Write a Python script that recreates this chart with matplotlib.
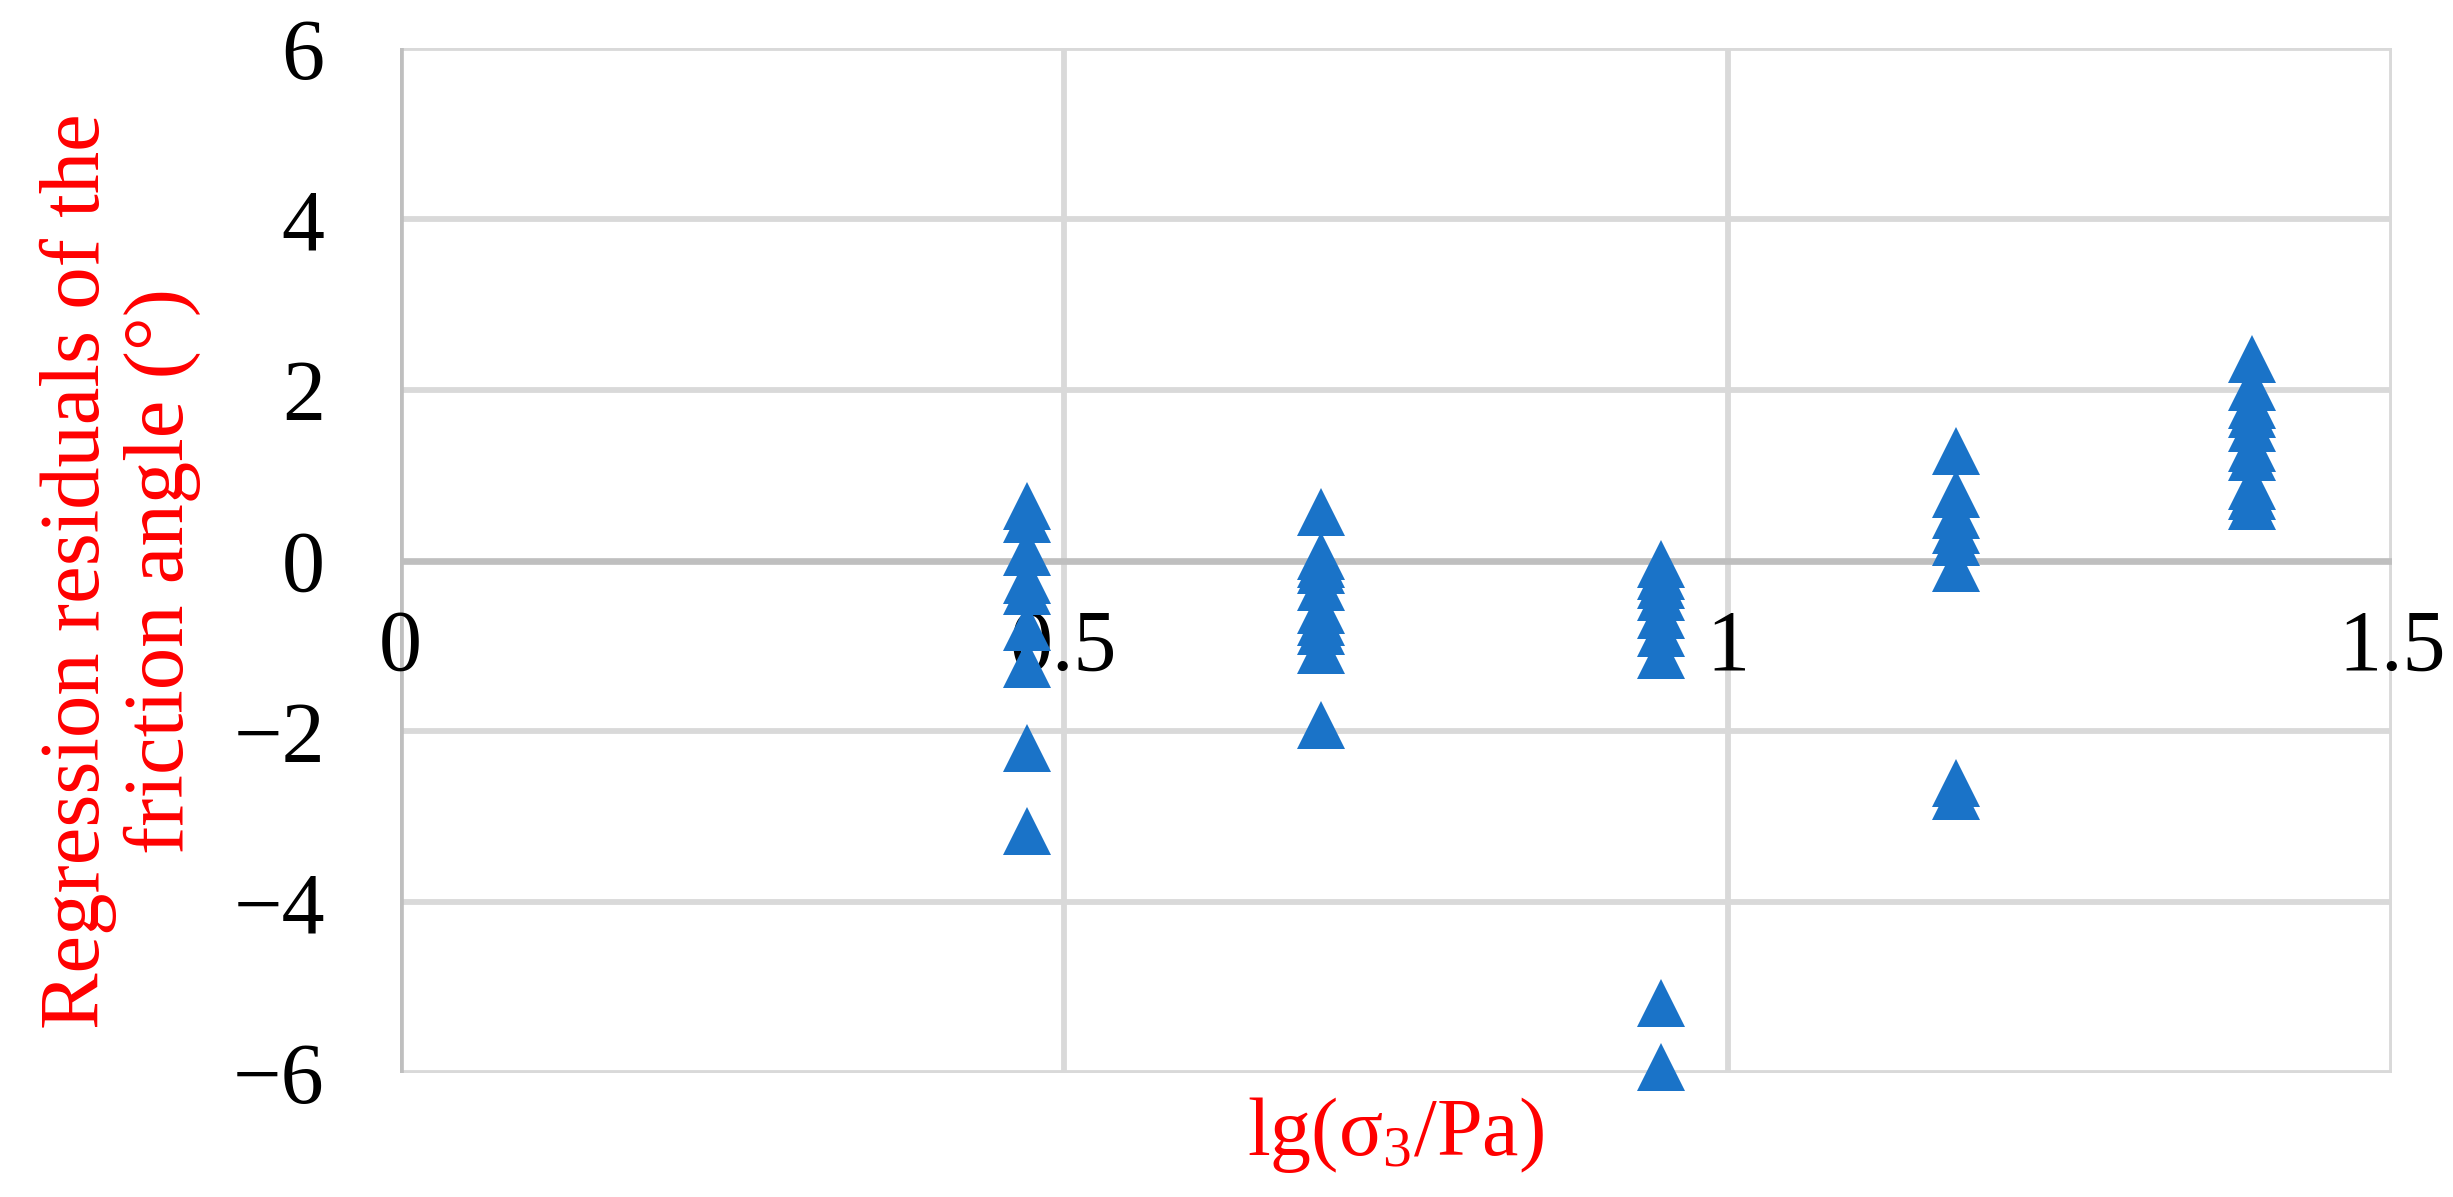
import numpy as np
import matplotlib
matplotlib.use("Agg")
import matplotlib.pyplot as plt

plt.rcParams['font.family'] = ['Liberation Serif', 'DejaVu Serif']
plt.rcParams['mathtext.fontset'] = 'custom'
plt.rcParams['mathtext.rm'] = 'Liberation Serif'
plt.rcParams['mathtext.it'] = 'Liberation Serif:italic'

# lg(sigma3/Pa) groups and residuals
x_groups = [0.472, 0.694, 0.950, 1.172, 1.395]
res_1 = [0.64, 0.49, 0.10, -0.23, -0.35, -0.78, -1.21, -2.19, -3.17]
res_2 = [0.57, 0.06, -0.04, -0.11, -0.31, -0.58, -0.72, -0.82, -1.05, -1.93]
res_3 = [-0.04, -0.18, -0.29, -0.43, -0.64, -0.85, -1.10, -5.18, -5.93]
res_4 = [1.29, 0.78, 0.53, 0.36, 0.22, -0.08, -2.60, -2.76]
res_5 = [2.36, 2.03, 1.82, 1.72, 1.55, 1.32, 1.22, 0.87, 0.76, 0.64]
residuals = [res_1, res_2, res_3, res_4, res_5]

x_ticks = [0, 0.5, 1, 1.5]
x_tick_labels = ['0', '0.5', '1', '1.5']
y_ticks = [-6, -4, -2, 0, 2, 4, 6]

fig = plt.figure(figsize=(24.53, 11.97), dpi=100)
ax = fig.add_axes([0.163, 0.1036, 0.812, 0.856])

grid_c = '#d9d9d9'
axis_c = '#bfbfbf'
for yv in y_ticks:
    if yv != 0:
        ax.axhline(yv, color=grid_c, lw=4.2, zorder=0)
for xv in x_ticks[1:]:
    ax.axvline(xv, color=grid_c, lw=4.2, zorder=0)
ax.axhline(0, color=axis_c, lw=4.8, zorder=0.5)
ax.axvline(0, color=axis_c, lw=4.8, zorder=0.5)

for xg, ys in zip(x_groups, residuals):
    ax.plot([xg] * len(ys), ys, linestyle='none', marker='^', ms=34,
            color='#1a73c8', markeredgewidth=0, zorder=2, clip_on=False)

ax.set_xlim(0, 1.5)
ax.set_ylim(-6, 6)
ax.set_xticks(x_ticks)
ax.set_xticklabels(x_tick_labels)
ax.set_yticks(y_ticks)
for s in ['top', 'right', 'left']:
    ax.spines[s].set_visible(False)
ax.spines['bottom'].set_position(('data', 0))
ax.spines['bottom'].set_visible(False)
ax.tick_params(axis='x', length=0, pad=35, labelsize=62)
ax.tick_params(axis='y', length=0, pad=54, labelsize=62)

ax.set_xlabel(r'lg(σ$_{\mathrm{3}}$/Pa)', color='red', fontsize=59)
ax.xaxis.set_label_coords(0.5, -0.021)
ax.set_ylabel('Regression residuals of the\nfriction angle (°)', color='red',
              fontsize=61, multialignment='center', linespacing=1.1)
ax.yaxis.set_label_coords(-0.10, 0.49)

fig.savefig('out.png', dpi=100, facecolor='white')
